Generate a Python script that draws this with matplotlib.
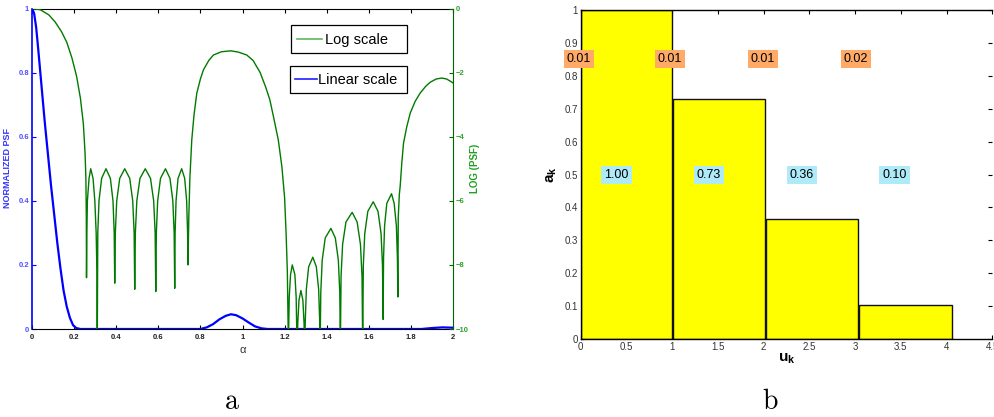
import matplotlib
matplotlib.use("Agg")
import matplotlib.pyplot as plt
from matplotlib.lines import Line2D
from matplotlib.patches import Rectangle

plt.rcParams['font.family'] = ['Liberation Sans', 'DejaVu Sans']
plt.rcParams['mathtext.fontset'] = 'custom'
plt.rcParams['mathtext.rm'] = 'Liberation Sans'
plt.rcParams['mathtext.it'] = 'Liberation Sans:italic'
plt.rcParams['mathtext.bf'] = 'Liberation Sans:bold'

# ---------------- data: panel a ----------------
lin_alpha = [0.0, 0.01, 0.02, 0.03, 0.045, 0.06, 0.075, 0.09, 0.105, 0.12, 0.135, 0.15,
             0.165, 0.18, 0.195, 0.21, 0.23, 0.8, 0.83, 0.86, 0.89, 0.92, 0.945, 0.97,
             1.0, 1.03, 1.06, 1.09, 1.12, 1.85, 1.9, 1.95, 2.0]
lin_psf = [1.0, 0.985, 0.94, 0.87, 0.76, 0.65, 0.55, 0.45, 0.36, 0.27, 0.19, 0.12,
           0.07, 0.035, 0.012, 0.003, 0.0, 0.0, 0.005, 0.015, 0.03, 0.041, 0.046, 0.043,
           0.033, 0.02, 0.008, 0.002, 0.0, 0.0, 0.003, 0.005, 0.004]

log_alpha = [
    0.0, 0.04, 0.08, 0.11, 0.14, 0.165, 0.19, 0.212, 0.23, 0.244, 0.252, 0.256, 0.258, 0.259,
    0.2605, 0.2632, 0.271, 0.279, 0.29, 0.2985, 0.3048, 0.3084, 0.310,
    0.3125, 0.3183, 0.3308, 0.3515, 0.3723, 0.3847, 0.3905, 0.393,
    0.3959, 0.4025, 0.4168, 0.4405, 0.4643, 0.4785, 0.4852, 0.488,
    0.491, 0.498, 0.513, 0.538, 0.563, 0.578, 0.585, 0.588,
    0.5907, 0.597, 0.6105, 0.634, 0.6555, 0.669, 0.6753, 0.678,
    0.6799, 0.6843, 0.6938, 0.711, 0.7253, 0.7347, 0.7391, 0.741,
    0.745, 0.75, 0.759, 0.77, 0.783, 0.80, 0.814, 0.84, 0.862, 0.90, 0.944, 0.98, 1.02,
    1.05, 1.084, 1.11, 1.13, 1.147, 1.17, 1.187, 1.20, 1.207, 1.213, 1.218,
    1.2192, 1.2221, 1.2283, 1.2365, 1.2488, 1.2549, 1.2578, 1.259,
    1.2601, 1.2627, 1.2683, 1.2775, 1.2868, 1.2923, 1.2949, 1.296,
    1.2982, 1.3033, 1.3143, 1.334, 1.3508, 1.3617, 1.3668, 1.369,
    1.3719, 1.3786, 1.393, 1.420, 1.441, 1.4554, 1.4621, 1.465,
    1.4682, 1.4756, 1.4915, 1.521, 1.5445, 1.5604, 1.5678, 1.571,
    1.5739, 1.5807, 1.5953, 1.621, 1.6438, 1.6583, 1.6651, 1.668,
    1.6701, 1.675, 1.6855, 1.708, 1.7205, 1.731, 1.7359, 1.738,
    1.740, 1.745, 1.749, 1.757, 1.765, 1.78, 1.797, 1.82, 1.844, 1.87, 1.892, 1.92, 1.947,
    1.97, 2.0]
log_psf = [
    0.0, -0.04, -0.2, -0.42, -0.72, -1.05, -1.55, -2.12, -2.8, -3.6, -4.5, -5.3, -6.5, -8.4,
    -7.0, -6.0, -5.3, -5.0, -5.3, -6.0, -7.0, -8.2, -10.5,
    -7.0, -6.0, -5.3, -5.0, -5.3, -6.0, -7.0, -8.57,
    -7.0, -6.0, -5.3, -5.0, -5.3, -6.0, -7.0, -8.76,
    -7.0, -6.0, -5.3, -5.0, -5.3, -6.0, -7.0, -8.83,
    -7.0, -6.0, -5.3, -5.0, -5.3, -6.0, -7.0, -8.73,
    -7.0, -6.0, -5.3, -5.0, -5.3, -6.0, -7.0, -8.0,
    -6.5, -5.3, -4.1, -3.3, -2.64, -2.2, -1.92, -1.62, -1.45, -1.35, -1.32, -1.36, -1.45,
    -1.62, -2.0, -2.45, -2.85, -3.37, -4.1, -4.93, -5.9, -7.0, -8.2, -10.5,
    -10.0, -9.0, -8.3, -8.0, -8.3, -9.0, -10.0, -10.5,
    -10.5, -9.8, -9.1, -8.8, -9.1, -9.8, -10.5, -10.5,
    -9.76, -8.76, -8.06, -7.76, -8.06, -8.76, -9.76, -10.5,
    -8.86, -7.86, -7.16, -6.86, -7.16, -7.86, -8.86, -10.5,
    -8.36, -7.36, -6.66, -6.36, -6.66, -7.36, -8.36, -10.5,
    -8.03, -7.03, -6.33, -6.03, -6.33, -7.03, -8.03, -9.7,
    -7.78, -6.78, -6.08, -5.78, -6.08, -6.78, -7.78, -9.0,
    -6.5, -5.8, -5.55, -4.8, -4.2, -3.7, -3.26, -2.9, -2.64, -2.43, -2.3, -2.2, -2.17,
    -2.2, -2.32]

a_xticks = [0, 0.2, 0.4, 0.6, 0.8, 1, 1.2, 1.4, 1.6, 1.8, 2]
a_xticklabels = ['0', '0.2', '0.4', '0.6', '0.8', '1', '1.2', '1.4', '1.6', '1.8', '2']
a_lticks = [0, 0.2, 0.4, 0.6, 0.8, 1]
a_lticklabels = ['0', '0.2', '0.4', '0.6', '0.8', '1']
a_rticks = [0, -2, -4, -6, -8, -10]
a_rticklabels = ['0', '\u22122', '\u22124', '\u22126', '\u22128', '\u221210']
legend_labels = ['Log scale', 'Linear scale']

# ---------------- data: panel b ----------------
bar_left = [0.0, 1.01, 2.025, 3.045]
bar_width = [1.0, 1.01, 1.005, 1.01]
bar_height = [1.0, 0.728, 0.364, 0.103]
blue_labels = ['1.00', '0.73', '0.36', '0.10']
blue_label_u = [0.39, 1.40, 2.42, 3.43]
orange_labels = ['0.01', '0.01', '0.01', '0.02']
orange_label_u = [-0.02, 0.976, 1.99, 3.01]
b_xticks = [0, 0.5, 1, 1.5, 2, 2.5, 3, 3.5, 4, 4.5]
b_xticklabels = ['0', '0.5', '1', '1.5', '2', '2.5', '3', '3.5', '4', '4.5']
b_yticks = [0, 0.1, 0.2, 0.3, 0.4, 0.5, 0.6, 0.7, 0.8, 0.9, 1]
b_yticklabels = ['0', '0.1', '0.2', '0.3', '0.4', '0.5', '0.6', '0.7', '0.8', '0.9', '1']

W, H = 995, 417
fig = plt.figure(figsize=(W / 100, H / 100), dpi=100)

def fx(p):
    return p / W

def fy(p):
    return (H - p) / H

# ---------------- panel a ----------------
ax1 = fig.add_axes([fx(32), fy(329), 421 / W, 320.5 / H])
ax1.plot(lin_alpha, lin_psf, color='#0000ff', lw=1.6, zorder=3)
ax1.set_xlim(0, 2)
ax1.set_ylim(0, 1)
ax1.set_xticks(a_xticks)
ax1.set_xticklabels(a_xticklabels, fontsize=5.5, fontweight='bold', color='#222222')
ax1.set_yticks(a_lticks)
ax1.set_yticklabels(a_lticklabels, fontsize=5.5, fontweight='bold', color='#5050ff')
ax1.tick_params(axis='both', direction='in', length=3, width=0.8)
ax1.tick_params(axis='x', top=True, pad=3.5)
ax1.tick_params(axis='y', colors='#0000ff', labelcolor='#5050ff', pad=2)
ax1.spines['left'].set_color('#0000ff')
ax1.spines['left'].set_linewidth(1.2)
ax1.spines['right'].set_visible(False)
ax1.set_xlabel('\u03b1', fontsize=8, labelpad=3, color='#333333')

ax2 = ax1.twinx()
ax2.plot(log_alpha, log_psf, color='#007a00', lw=1.0, zorder=2)
ax2.set_ylim(-10, 0)
ax2.set_yticks(a_rticks)
ax2.set_yticklabels(a_rticklabels, fontsize=5.5, fontweight='bold', color='#30a030')
ax2.tick_params(axis='y', direction='in', length=3, width=0.8, pad=2, colors='#006400',
                labelcolor='#30a030')
ax2.spines['right'].set_color('#006400')
ax2.spines['left'].set_visible(False)
ax2.spines['top'].set_visible(False)
ax2.spines['bottom'].set_visible(False)
ax2.patch.set_visible(False)

fig.text(fx(475), fy(168), 'LOG (PSF)', rotation=90, color='#20a020', fontsize=7,
         fontweight='bold', ha='center', va='center')
fig.text(fx(8), fy(168), 'NORMALIZED PSF', rotation=90, color='#3333ff', fontsize=6.5,
         fontweight='bold', ha='center', va='center')

# legend boxes (two separate boxes, same width)
legend_boxes = [(290.7, 25.0, 406.7, 52.7), (290.0, 65.7, 407.3, 92.7)]
legend_handles = [(297, 322, 39), (295, 317, 79)]
legend_colors = ['#5cb85c', '#2020ff']
legend_text_x = [325, 318.5]
for (x0, y0, x1, y1), (hx0, hx1, hy), c, tx, lab in zip(
        legend_boxes, legend_handles, legend_colors, legend_text_x, legend_labels):
    fig.patches.append(Rectangle((fx(x0), fy(y1)), (x1 - x0) / W, (y1 - y0) / H,
                                 transform=fig.transFigure, facecolor='white',
                                 edgecolor='black', linewidth=0.9, zorder=10))
    fig.lines.append(Line2D([fx(hx0), fx(hx1)], [fy(hy), fy(hy)], transform=fig.transFigure,
                            color=c, lw=1.2, zorder=11))
    fig.text(fx(tx), fy(hy + 1), lab, fontsize=10.5, ha='left', va='center', zorder=12)

# ---------------- panel b ----------------
bx = fig.add_axes([fx(580.7), fy(339), 411.6 / W, 329 / H])
bx.bar(bar_left, bar_height, width=bar_width, align='edge', color='#ffff00',
       edgecolor='#111111', linewidth=1.0, zorder=2)
bx.set_xlim(0, 4.5)
bx.set_ylim(0, 1)
bx.set_xticks(b_xticks)
bx.set_xticklabels(b_xticklabels, fontsize=7, color='#333333')
bx.set_yticks(b_yticks)
bx.set_yticklabels(b_yticklabels, fontsize=7, color='#333333')
bx.tick_params(axis='both', direction='in', length=3, width=0.8, pad=2, top=True, right=True)
bx.spines['right'].set_visible(False)
for s in ['left', 'bottom', 'top']:
    bx.spines[s].set_linewidth(1.0)
bx.set_xlabel(r'$\mathbf{u_k}$', fontsize=11, labelpad=0)
bx.set_ylabel(r'$\mathbf{a_k}$', fontsize=11, labelpad=4)

for u, t in zip(blue_label_u, blue_labels):
    bx.text(u, 0.50, t, fontsize=9, ha='center', va='center', zorder=5,
            bbox=dict(facecolor='#aeeaf8', edgecolor='none', pad=2.2))
for u, t in zip(orange_label_u, orange_labels):
    bx.text(u, 0.85, t, fontsize=9, ha='center', va='center', zorder=5, clip_on=False,
            bbox=dict(facecolor='#ffaa66', edgecolor='none', pad=2.2))

# ---------------- captions ----------------
fig.text(fx(232), fy(409), r'$\mathrm{a}$', fontsize=20, ha='center', va='baseline',
         math_fontfamily='cm')
fig.text(fx(770), fy(409), r'$\mathrm{b}$', fontsize=20, ha='center', va='baseline',
         math_fontfamily='cm')

fig.savefig('out.png', dpi=100)
